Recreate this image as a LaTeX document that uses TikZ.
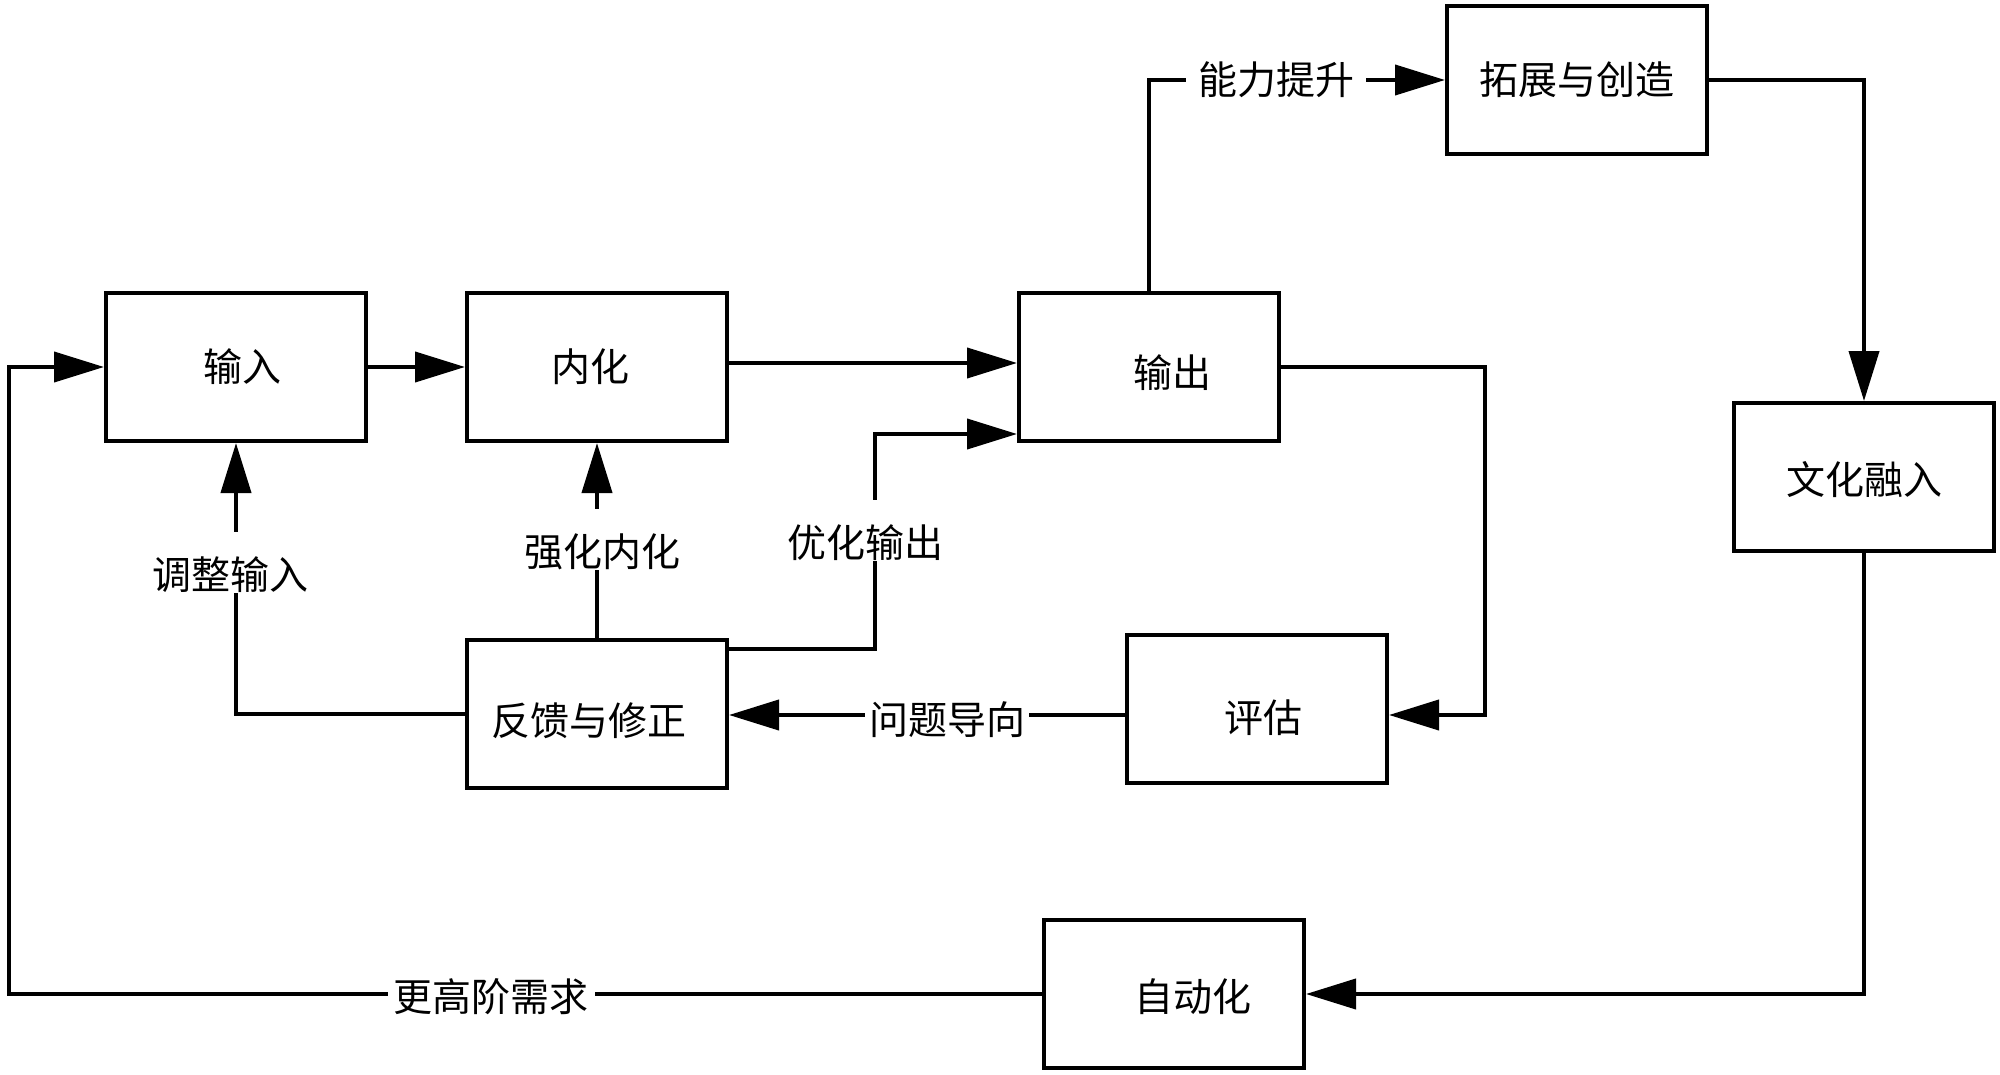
\documentclass[tikz,border=0pt]{standalone}
\usepackage{fontspec}
\newfontfamily\cjk{Noto Sans CJK SC}
\usetikzlibrary{arrows.meta}
\newcommand{\lowerby}[2]{\raisebox{-#1}[\height][\depth]{#2}}
\tikzset{
  box/.style={draw=black, line width=4pt, fill=white, minimum width=260pt, minimum height=148pt, inner sep=0pt, font=\cjk\fontsize{39}{41}\selectfont},
  lbl/.style={fill=white, inner xsep=6pt, inner ysep=1pt, font=\cjk\fontsize{39}{41}\selectfont},
  vlbl/.style={inner sep=0pt, font=\cjk\fontsize{39}{41}\selectfont},
  conn/.style={draw=black, line width=4pt},
  arr/.style={conn, -{Triangle[length=50pt, width=30pt]}},
}
\begin{document}
\begin{tikzpicture}[x=1pt, y=1pt]
\useasboundingbox (0,0) rectangle (2000,-1075);
\fill[white] (0,0) rectangle (2000,-1075);
% boxes
\node[box] (in) at (236,-367) {\hspace*{12pt}输入};
\node[box] (nh) at (597,-367) {内化\hspace*{14pt}};
\node[box] (out) at (1149,-367) {\hspace*{46pt}\lowerby{6pt}{输出}};
\node[box] (tz) at (1577,-80) {拓展与创造};
\node[box] (wh) at (1864,-477) {\lowerby{3pt}{文化融入}};
\node[box] (pg) at (1257,-709) {\hspace*{12pt}\lowerby{9pt}{评估}};
\node[box] (fb) at (597,-714) {\lowerby{7pt}{反馈与修正}\hspace*{16pt}};
\node[box] (zd) at (1174,-994) {\hspace*{38pt}\lowerby{3pt}{自动化}};
% vertical labels
\node[vlbl] (l1) at (230,-575) {调整输入};
\node[vlbl] (l2) at (602,-552) {强化内化};
\node[vlbl] (l3) at (865,-543) {优化输出};
% corner coordinates
\coordinate (c1) at (1485,-715);
\coordinate (c2) at (9,-994);
% connectors
\draw[arr] (in.east) -- (nh.west);
\draw[arr] ([yshift=4pt]nh.east) -- ([yshift=4pt]out.west);
\draw[conn] ([yshift=-11pt]fb.north east) -| ([xshift=10pt]l3.south);
\draw[arr] ([xshift=10pt,yshift=25pt]l3.north) |- ([yshift=-67pt]out.west);
\draw[conn] (fb.north) -- ([xshift=-5pt]l2.south);
\draw[arr] ([xshift=-5pt,yshift=25pt]l2.north) -- (nh.south);
\draw[conn] (fb.west) -| ([xshift=6pt]l1.south);
\draw[arr] ([xshift=6pt,yshift=25pt]l1.north) -- (in.south);
\draw[arr] ([yshift=-6pt]pg.west) -- ([yshift=-1pt]fb.east);
\draw[arr] (out.east) -| (c1) -- ([yshift=-6pt]pg.east);
\draw[arr] (out.north) |- (tz.west);
\draw[arr] (tz.east) -| (wh.north);
\draw[arr] (wh.south) |- (zd.east);
\draw[arr] (zd.west) -- (c2) |- (in.west);
% horizontal labels
\node[lbl, inner xsep=12pt] (l4) at (1276,-80) {能力提升};
\node[lbl, inner xsep=4pt] (l5) at (947,-720) {问题导向};
\node[lbl] (l6) at (491,-997) {更高阶需求};
\end{tikzpicture}
\end{document}
